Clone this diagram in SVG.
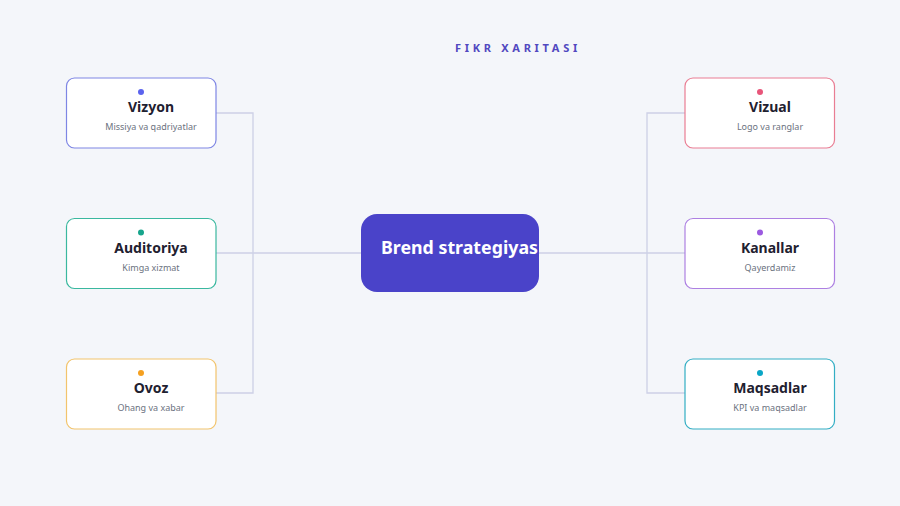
<svg xmlns="http://www.w3.org/2000/svg" width="900" height="506" viewBox="0 0 900 506">
<style>
.node{fill:#fff;stroke-width:1.2}
.t{font-family:"Noto Sans","Liberation Sans",sans-serif;font-weight:700;font-size:14px;fill:#1f2130;text-anchor:middle}
.s{font-family:"Noto Sans","Liberation Sans",sans-serif;font-size:9px;fill:#6b7280;text-anchor:middle}
.c{fill:none;stroke:#cdd0e6;stroke-width:1.3}
</style>
<rect width="900" height="506" fill="#f4f6fa"/>
<text x="518" y="52" font-family="Noto Sans, Liberation Sans, sans-serif" font-size="11" font-weight="700" fill="#5148c0" text-anchor="middle" letter-spacing="3.7">FIKR XARITASI</text>
<g id="connectors">
<path class="c" d="M216 113H253V393H216M216 253H361"/>
<path class="c" d="M685 113H647V393H685M539 253H685"/>
</g>
<g id="center">
<rect x="361" y="214" width="178" height="78" rx="16" fill="#4a43c9"/>
<text x="381" y="253.5" font-family="Noto Sans, Liberation Sans, sans-serif" font-size="17.8" font-weight="700" fill="#fff">Brend strategiyas</text>
</g>
<g id="vizyon">
<rect class="node" x="66.5" y="78" width="149.5" height="70" rx="8" stroke="#7e86e4"/>
<circle cx="141" cy="92" r="3" fill="#5b63ee"/>
<text class="t" x="151" y="112">Vizyon</text>
<text class="s" x="151" y="130">Missiya va qadriyatlar</text>
</g>
<g id="auditoriya">
<rect class="node" x="66.5" y="218.5" width="149.5" height="70" rx="8" stroke="#3ab89f"/>
<circle cx="141" cy="232.5" r="3" fill="#17a58c"/>
<text class="t" x="151" y="252.5">Auditoriya</text>
<text class="s" x="151" y="270.5">Kimga xizmat</text>
</g>
<g id="ovoz">
<rect class="node" x="66.5" y="359" width="149.5" height="70" rx="8" stroke="#f2c46c"/>
<circle cx="141" cy="373" r="3" fill="#f5a020"/>
<text class="t" x="151" y="393">Ovoz</text>
<text class="s" x="151" y="411">Ohang va xabar</text>
</g>
<g id="vizual">
<rect class="node" x="685" y="78" width="149.5" height="70" rx="8" stroke="#e97d93"/>
<circle cx="760" cy="92" r="3" fill="#e8557a"/>
<text class="t" x="770" y="112">Vizual</text>
<text class="s" x="770" y="130">Logo va ranglar</text>
</g>
<g id="kanallar">
<rect class="node" x="685" y="218.5" width="149.5" height="70" rx="8" stroke="#ad80e2"/>
<circle cx="760" cy="232.5" r="3" fill="#9c5ae0"/>
<text class="t" x="770" y="252.5">Kanallar</text>
<text class="s" x="770" y="270.5">Qayerdamiz</text>
</g>
<g id="maqsadlar">
<rect class="node" x="685" y="359" width="149.5" height="70" rx="8" stroke="#33aec4"/>
<circle cx="760" cy="373" r="3" fill="#0aa6c6"/>
<text class="t" x="770" y="393">Maqsadlar</text>
<text class="s" x="770" y="411">KPI va maqsadlar</text>
</g>
</svg>
